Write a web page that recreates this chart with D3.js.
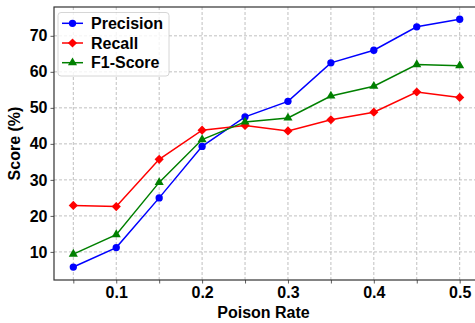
<!DOCTYPE html>
<html><head><meta charset="utf-8">
<script src="https://cdn.jsdelivr.net/npm/d3@7"></script>
<style>html,body{margin:0;padding:0;background:#fff;overflow:hidden}</style>
</head><body>
<svg id="c" width="475" height="323"></svg>
<script>
const rates = [0.05,0.1,0.15,0.2,0.25,0.3,0.35,0.4,0.45,0.5];
const precision = [5.8,11.2,25.0,39.3,47.5,51.8,62.5,66.0,72.5,74.6];
const recall = [22.9,22.6,35.7,43.8,45.1,43.6,46.7,48.8,54.4,52.9];
const f1 = [9.4,14.8,29.3,41.2,46.1,47.2,53.3,56.0,62.0,61.7];
const xTickLabels = [0.1,0.2,0.3,0.4,0.5];
const yTicks = [10,20,30,40,50,60,70];
const seriesNames = ["Precision","Recall","F1-Score"];
const seriesColors = ["#0000ff","#ff0000","#008000"];
const seriesMarkers = ["circle","diamond","triangle"];

const svg = d3.select("#c");
const L=54, R=479, T=7, B=280;
const x = d3.scaleLinear().domain([0.0275,0.5225]).range([L,R]);
const y = d3.scaleLinear().domain([2.2,78.0]).range([B,T]);
const font = "'Liberation Sans', Arial, sans-serif";
const FS = 16;

const g = svg.append("g");
// grid
g.selectAll(".vg").data(rates).join("line")
  .attr("x1",d=>x(d)).attr("x2",d=>x(d)).attr("y1",T).attr("y2",B)
  .attr("stroke","#b0b0b0").attr("stroke-width",0.8).attr("stroke-dasharray","3,2");
g.selectAll(".hg").data(yTicks).join("line")
  .attr("x1",L).attr("x2",R).attr("y1",d=>y(d)).attr("y2",d=>y(d))
  .attr("stroke","#b0b0b0").attr("stroke-width",0.8).attr("stroke-dasharray","3,2");

// axes
const xAxis = d3.axisBottom(x).tickValues(rates).tickSize(3.5).tickPadding(3)
  .tickFormat(d => xTickLabels.some(v=>Math.abs(v-d)<1e-9) ? d3.format(".1f")(d) : "");
const yAxis = d3.axisLeft(y).tickValues(yTicks).tickSize(3.5).tickPadding(3).tickFormat(d3.format("d"));
const xa = svg.append("g").attr("transform",`translate(0,${B})`).call(xAxis);
const ya = svg.append("g").attr("transform",`translate(${L},0)`).call(yAxis);
[xa,ya].forEach(a=>{
  a.select(".domain").remove();
  a.selectAll("line").attr("stroke","#333").attr("stroke-width",0.8);
  a.selectAll("text").attr("font-family",font).attr("font-weight","bold").attr("font-size",FS).attr("fill","#000");
});
// spines
svg.append("rect").attr("x",L).attr("y",T).attr("width",R-L).attr("height",B-T)
  .attr("fill","none").attr("stroke","#333").attr("stroke-width",1.2);

// markers
const symType = {circle:d3.symbolCircle, triangle:d3.symbolTriangle};
const symSize = {circle:42, triangle:36};
function markerPath(m){
  if(m==="diamond"){ const r=4.6; return `M0,${-r}L${r},0L0,${r}L${-r},0Z`; }
  return d3.symbol().type(symType[m]).size(symSize[m])();
}

// series
const allData = [precision,recall,f1];
const line = d3.line().x((d,i)=>x(rates[i])).y(d=>y(d));
allData.forEach((vals,k)=>{
  const col = seriesColors[k];
  svg.append("path").datum(vals).attr("d",line).attr("fill","none").attr("stroke",col).attr("stroke-width",1.5);
  const m = seriesMarkers[k];
  svg.selectAll(null).data(vals).join("path")
    .attr("transform",(d,i)=>`translate(${x(rates[i])},${y(d)})`)
    .attr("d",markerPath(m))
    .attr("fill",col);
});

// legend
const lg = svg.append("g");
lg.append("rect").attr("x",58).attr("y",12.5).attr("width",111).attr("height",63.5).attr("rx",3)
  .attr("fill","#fff").attr("fill-opacity",0.8).attr("stroke","#ccc").attr("stroke-width",0.8);
seriesNames.forEach((n,k)=>{
  const yy = 23.3 + k*19.7;
  lg.append("line").attr("x1",62).attr("x2",83).attr("y1",yy).attr("y2",yy).attr("stroke",seriesColors[k]).attr("stroke-width",1.5);
  const m = seriesMarkers[k];
  lg.append("path").attr("transform",`translate(72.5,${yy})`)
    .attr("d",markerPath(m)).attr("fill",seriesColors[k]);
  lg.append("text").attr("x",91).attr("y",yy).attr("dy","0.36em").text(n)
    .attr("font-family",font).attr("font-weight","bold").attr("font-size",FS).attr("fill","#000");
});

// axis labels
svg.append("text").attr("x",(L+R)/2 - 3).attr("y",318).attr("text-anchor","middle")
  .attr("font-family",font).attr("font-weight","bold").attr("font-size",FS).text("Poison Rate");
svg.append("text").attr("transform",`translate(20,${(T+B)/2}) rotate(-90)`).attr("text-anchor","middle")
  .attr("font-family",font).attr("font-weight","bold").attr("font-size",FS).text("Score (%)");
</script>
</body></html>
